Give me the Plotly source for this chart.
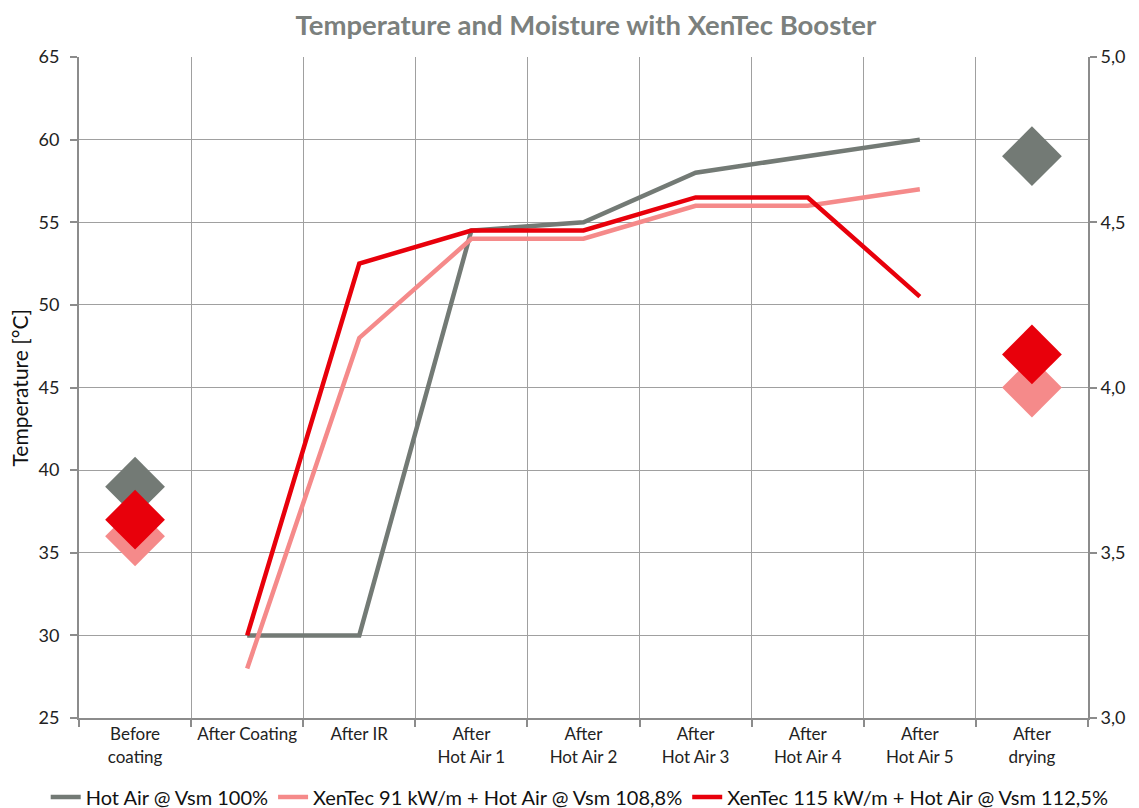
import plotly.graph_objects as go

categories = ["Before<br>coating", "After Coating", "After IR", "After<br>Hot Air 1",
              "After<br>Hot Air 2", "After<br>Hot Air 3", "After<br>Hot Air 4",
              "After<br>Hot Air 5", "After<br>drying"]

series_names = ["Hot Air @ Vsm 100%",
                "XenTec 91 kW/m + Hot Air @ Vsm 108,8%",
                "XenTec 115 kW/m + Hot Air @ Vsm 112,5%"]

# Temperature [°C] (left axis)
temp_hot_air = [None, 30, 30, 54.5, 55, 58, 59, 60, None]
temp_xentec91 = [None, 28, 48, 54, 54, 56, 56, 57, None]
temp_xentec115 = [None, 30, 52.5, 54.5, 54.5, 56.5, 56.5, 50.5, None]

# Moisture (right axis)
moist_hot_air = [3.7, None, None, None, None, None, None, None, 4.7]
moist_xentec91 = [3.55, None, None, None, None, None, None, None, 4.0]
moist_xentec115 = [3.6, None, None, None, None, None, None, None, 4.1]

colors = ["#737a75", "#f58a8a", "#e8000b"]
FONT = "Lato"
W, H = 1131, 800

fig = go.Figure()
temps = [temp_hot_air, temp_xentec91, temp_xentec115]
moists = [moist_hot_air, moist_xentec91, moist_xentec115]
for name, t, c in zip(series_names, temps, colors):
    fig.add_trace(go.Scatter(x=categories, y=t, mode="lines", name=name,
                             line=dict(color=c, width=4.5), legendgroup=name,
                             connectgaps=False))
for name, m, c in zip(series_names, moists, colors):
    fig.add_trace(go.Scatter(x=categories, y=m, mode="markers", name=name,
                             marker=dict(symbol="diamond", size=46, color=c),
                             yaxis="y2", showlegend=False, legendgroup=name))

axis_common = dict(showline=True, linecolor="#8c8c8c", linewidth=2,
                   gridcolor="#a0a0a0", gridwidth=1.2, automargin=False,
                   ticks="outside", ticklen=7, tickcolor="#8c8c8c", tickwidth=1.5,
                   tickfont=dict(family=FONT, size=18, color="#222"))

fig.update_layout(
    width=W, height=H,
    margin=dict(l=71, r=51, t=49, b=90, autoexpand=False),
    paper_bgcolor="white", plot_bgcolor="white",
    separators=",.",
    title=dict(text="<b>Temperature and Moisture with XenTec Booster</b>",
               x=0.511, xanchor="center", y=0.978, yanchor="middle",
               font=dict(family=FONT, size=27.5, color="#7b807d")),
    xaxis=dict(type="category", tickson="boundaries", range=[-0.5, 8.5],
               showgrid=True, **{**axis_common,
               "tickfont": dict(family=FONT, size=17, color="#222")}),
    yaxis=dict(range=[25, 65], dtick=5, showgrid=True, zeroline=False,
               ticklabelstandoff=7, **axis_common),
    yaxis2=dict(range=[3, 5], dtick=0.5, tickformat=".1f", overlaying="y",
                side="right", showgrid=False, zeroline=False, **axis_common),
    legend=dict(orientation="h", x=-0.033, xanchor="left",
                y=-0.1195, yanchor="middle",
                itemwidth=30, tracegroupgap=0,
                font=dict(family=FONT, size=20, color="#111")),
    showlegend=True,
    annotations=[dict(text="Temperature [°C]", textangle=-90, xref="paper", yref="paper",
                      x=-0.0585, y=0.5, xanchor="center", yanchor="middle",
                      showarrow=False, font=dict(family=FONT, size=21, color="#111"))],
)

fig.write_html("out.html")
